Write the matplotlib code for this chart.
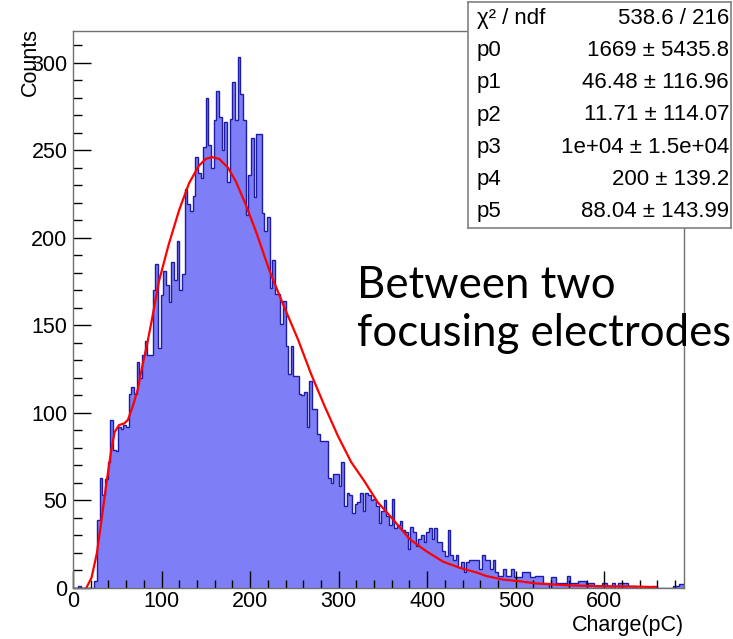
import numpy as np
import matplotlib
matplotlib.use("Agg")
import matplotlib.pyplot as plt
from matplotlib.ticker import MultipleLocator

plt.rcParams['font.family'] = ['Liberation Sans', 'DejaVu Sans']

# charge histogram, 3 pC bins from 0 to 690 pC
bin_width = 3
counts = [
    0, 0, 1, 0, 0, 0, 0, 0, 4, 39,
    63, 53, 62, 72, 96, 79, 78, 92, 91, 93,
    92, 111, 115, 111, 129, 120, 133, 141, 133, 133,
    170, 185, 137, 167, 181, 173, 163, 186, 176, 198,
    170, 179, 228, 219, 215, 224, 246, 237, 234, 252,
    280, 253, 240, 267, 284, 269, 250, 266, 232, 268,
    289, 267, 303, 282, 267, 213, 236, 257, 223, 259,
    259, 214, 204, 212, 171, 187, 168, 168, 151, 164,
    138, 122, 138, 121, 121, 111, 110, 112, 92, 118,
    102, 102, 88, 84, 84, 84, 63, 60, 65, 65,
    58, 72, 47, 54, 53, 43, 48, 49, 54, 44,
    54, 53, 50, 51, 47, 37, 44, 50, 41, 36,
    51, 34, 36, 38, 33, 32, 22, 35, 32, 24,
    28, 30, 26, 32, 34, 28, 34, 26, 26, 21,
    18, 33, 19, 16, 19, 12, 15, 9, 15, 16,
    16, 16, 16, 11, 19, 16, 16, 11, 16, 9,
    7, 7, 11, 7, 7, 11, 6, 6, 6, 9,
    9, 9, 6, 6, 7, 7, 7, 3, 3, 0,
    6, 6, 3, 3, 3, 3, 7, 3, 3, 3,
    4, 4, 4, 2, 3, 3, 1, 1, 1, 3,
    3, 1, 1, 3, 0, 3, 3, 3, 3, 1,
    1, 1, 0, 0, 0, 0, 0, 0, 1, 1,
    0, 0, 0, 0, 0, 0, 1, 1, 2, 2,
]
edges = np.arange(len(counts) + 1) * bin_width

# fitted curve
fit_x = [15, 21, 27, 32, 37.5, 43, 47, 52, 58, 62, 67, 73, 78, 84, 89, 97,
         108, 120, 131, 142, 150, 157, 165, 175, 184, 195, 207, 222, 238,
         254, 269, 284, 299, 314, 329, 344, 360, 380, 399, 418, 437, 456,
         467, 486, 505, 523, 561, 599, 636, 658]
fit_y = [0, 6, 20, 38, 59, 78, 89, 93, 94, 96, 103, 113, 126, 140, 153, 175,
         196, 216, 231, 241, 245, 246, 245, 240, 232, 219, 203, 181, 161,
         142, 122, 104, 87, 72, 61, 49, 40, 28, 21, 15, 11.5, 8.8,
         6.8, 4.8, 3.8, 2.6, 1.5, 1.0, 0.8, 0.5]

stat_names = ["\u03c7\u00b2 / ndf", "p0", "p1", "p2", "p3", "p4", "p5"]
stat_values = ["538.6 / 216", "1669 \u00b1 5435.8", "46.48 \u00b1 116.96",
               "11.71 \u00b1 114.07", "1e+04 \u00b1 1.5e+04",
               "200 \u00b1 139.2", "88.04 \u00b1 143.99"]

W, H = 733, 639
fig = plt.figure(figsize=(W / 100, H / 100), dpi=100)
ax = fig.add_axes([73 / W, 1 - 588 / H, (684 - 73) / W, (588 - 31) / H])

ax.stairs(counts, edges, fill=True, color='#7e7ef6', lw=0)
ax.stairs(counts, edges, color='#1c1ca8', lw=1.0)
ax.plot(fit_x, fit_y, color='red', lw=1.6)

ax.set_xlim(0, 690)
ax.set_ylim(0, 318)
ax.xaxis.set_major_locator(MultipleLocator(100))
ax.xaxis.set_minor_locator(MultipleLocator(20))
ax.yaxis.set_major_locator(MultipleLocator(50))
ax.yaxis.set_minor_locator(MultipleLocator(10))
ax.tick_params(axis='x', which='major', direction='in', length=12, width=1, labelsize=15.5, pad=2)
ax.tick_params(axis='x', which='minor', direction='in', length=6, width=1)
ax.tick_params(axis='y', which='major', direction='in', length=13, width=1, labelsize=15.5, pad=4)
ax.tick_params(axis='y', which='minor', direction='in', length=6.5, width=1)
for s in ax.spines.values():
    s.set_color('#707070')
    s.set_linewidth(1)

fig.text(684 / W, 1 - 625 / H, "Charge(pC)", ha='right', va='center', fontsize=15.5)
fig.text(30 / W, 1 - 28 / H, "Counts", ha='center', va='top', rotation=90, fontsize=15.5)

# stats box
sx0, sx1, sy0, sy1 = 468, 731, 2, 228
sax = fig.add_axes([sx0 / W, 1 - sy1 / H, (sx1 - sx0) / W, (sy1 - sy0) / H])
sax.set_xticks([])
sax.set_yticks([])
sax.set_xlim(sx0, sx1)
sax.set_ylim(sy1, sy0)
for s in sax.spines.values():
    s.set_color('#808080')
    s.set_linewidth(1.2)
row_h = (sy1 - sy0) / len(stat_names)
for i, (n, v) in enumerate(zip(stat_names, stat_values)):
    yc = sy0 + row_h * (i + 0.5)
    sax.text(477, yc, n, ha='left', va='center', fontsize=16)
    sax.text(729, yc, v, ha='right', va='center', fontsize=16)

fig.text(357 / W, 1 - 298 / H, "Between two", ha='left', va='baseline',
         fontsize=31.5, family=['Lato', 'DejaVu Sans'])
fig.text(357 / W, 1 - 346 / H, "focusing electrodes", ha='left', va='baseline',
         fontsize=31.5, family=['Lato', 'DejaVu Sans'])

fig.savefig("out.png", dpi=100)
